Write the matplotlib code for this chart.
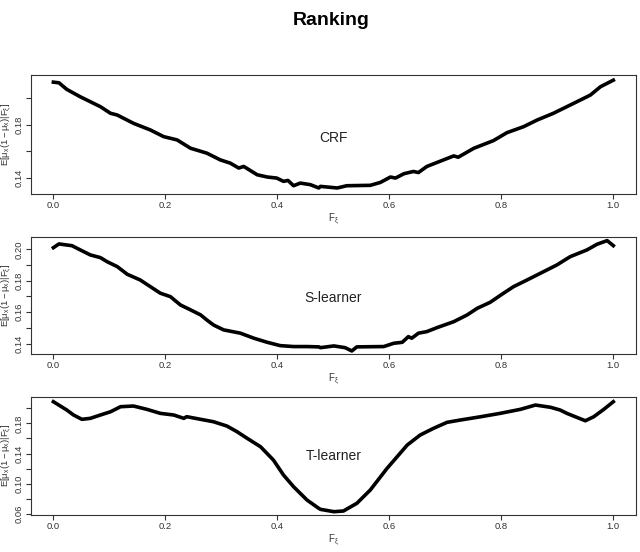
import matplotlib
matplotlib.use("Agg")
import matplotlib.pyplot as plt

# Ranking plot: E[mu(1-mu)|F] against the ranking score F, one panel per learner

# values
crf_x = [0.0, 0.01, 0.024, 0.048, 0.084, 0.102, 0.114, 0.143, 0.173, 0.197, 0.221, 0.245,
         0.274, 0.298, 0.316, 0.331, 0.340, 0.364, 0.382, 0.399, 0.411, 0.419, 0.429, 0.441,
         0.459, 0.474, 0.477, 0.507, 0.524, 0.566, 0.584, 0.602, 0.611, 0.626, 0.643, 0.652,
         0.667, 0.697, 0.715, 0.723, 0.751, 0.786, 0.810, 0.840, 0.864, 0.893, 0.929, 0.959,
         0.977, 1.0]
crf_y = [0.2123, 0.2118, 0.2068, 0.2012, 0.1937, 0.1887, 0.1874, 0.1811, 0.1761, 0.1710, 0.1685, 0.1622,
         0.1585, 0.1534, 0.1509, 0.1472, 0.1484, 0.1421, 0.1404, 0.1396, 0.1371, 0.1378, 0.1338, 0.1358,
         0.1346, 0.1321, 0.1333, 0.1321, 0.1338, 0.1341, 0.1363, 0.1404, 0.1396, 0.1429, 0.1446, 0.1438,
         0.1484, 0.1534, 0.1564, 0.1554, 0.1622, 0.1680, 0.1740, 0.1786, 0.1836, 0.1887, 0.1962, 0.2025,
         0.2088, 0.2138]

s_x = [0.0, 0.01, 0.024, 0.033, 0.048, 0.066, 0.084, 0.096, 0.114, 0.132, 0.155, 0.173,
       0.191, 0.209, 0.227, 0.245, 0.263, 0.274, 0.286, 0.304, 0.334, 0.358, 0.382, 0.405,
       0.429, 0.453, 0.474, 0.477, 0.501, 0.521, 0.533, 0.542, 0.590, 0.608, 0.623, 0.634,
       0.640, 0.652, 0.667, 0.685, 0.715, 0.739, 0.757, 0.780, 0.804, 0.822, 0.846, 0.870,
       0.899, 0.923, 0.953, 0.971, 0.989, 1.0]
s_y = [0.2010, 0.2034, 0.2027, 0.2023, 0.1996, 0.1964, 0.1947, 0.1921, 0.1890, 0.1841, 0.1805, 0.1763,
       0.1721, 0.1699, 0.1646, 0.1615, 0.1583, 0.1551, 0.1519, 0.1488, 0.1467, 0.1435, 0.1409, 0.1388,
       0.1382, 0.1382, 0.1380, 0.1375, 0.1386, 0.1375, 0.1354, 0.1380, 0.1382, 0.1403, 0.1409, 0.1445,
       0.1435, 0.1467, 0.1477, 0.1502, 0.1540, 0.1583, 0.1625, 0.1663, 0.1721, 0.1763, 0.1805, 0.1848,
       0.1900, 0.1953, 0.1996, 0.2032, 0.2055, 0.2023]

t_x = [0.0, 0.024, 0.036, 0.051, 0.066, 0.084, 0.102, 0.120, 0.143, 0.167, 0.191, 0.215,
       0.233, 0.238, 0.263, 0.286, 0.310, 0.328, 0.346, 0.370, 0.393, 0.411, 0.429, 0.453,
       0.474, 0.477, 0.501, 0.518, 0.542, 0.566, 0.596, 0.632, 0.655, 0.679, 0.703, 0.727,
       0.763, 0.798, 0.834, 0.861, 0.888, 0.905, 0.917, 0.950, 0.965, 0.983, 1.0]
t_y = [0.2086, 0.1976, 0.1910, 0.1853, 0.1866, 0.1910, 0.1953, 0.2020, 0.2029, 0.1985, 0.1932, 0.1910,
       0.1866, 0.1888, 0.1853, 0.1821, 0.1764, 0.1689, 0.1602, 0.1490, 0.1314, 0.1116, 0.0961, 0.0785,
       0.0675, 0.0662, 0.0631, 0.0640, 0.0742, 0.0918, 0.1205, 0.1513, 0.1645, 0.1734, 0.1813, 0.1844,
       0.1887, 0.1932, 0.1985, 0.2042, 0.2012, 0.1976, 0.1932, 0.1834, 0.1887, 0.1985, 0.2086]

names = ["CRF", "S-learner", "T-learner"]
label_y = [0.170, 0.169, 0.137]

y_ticks = [[0.14, 0.16, 0.18, 0.20],
           [0.14, 0.15, 0.16, 0.17, 0.18, 0.19, 0.20],
           [0.06, 0.08, 0.10, 0.12, 0.14, 0.16, 0.18, 0.20]]
y_labels = [["0.14", "", "0.18", ""],
            ["0.14", "", "0.16", "", "0.18", "", "0.20"],
            ["0.06", "", "0.10", "", "0.14", "", "0.18", ""]]
y_lims = [(0.1273, 0.2177), (0.1333, 0.2076), (0.0587, 0.2152)]
x_ticks = [0.0, 0.2, 0.4, 0.6, 0.8, 1.0]
x_labels = ["0.0", "0.2", "0.4", "0.6", "0.8", "1.0"]

plt.rcParams['font.family'] = ['Liberation Sans', 'DejaVu Sans']
plt.rcParams['mathtext.fontset'] = 'custom'
plt.rcParams['mathtext.rm'] = 'Liberation Sans'
plt.rcParams['mathtext.it'] = 'Liberation Sans'

fig = plt.figure(figsize=(6.4, 5.52), dpi=100)
fig.text(0.518, 0.962, "Ranking", ha='center', va='center', fontsize=14, fontweight='bold')

# axes boxes in figure fractions (left, bottom, width, height)
boxes = [(0.0484, 0.6480, 0.9449, 0.2161),
         (0.0484, 0.3582, 0.9449, 0.2119),
         (0.0484, 0.0670, 0.9449, 0.2143)]
data = [(crf_x, crf_y), (s_x, s_y), (t_x, t_y)]

for i in range(3):
    ax = fig.add_axes(boxes[i])
    xs, ys = data[i]
    ax.plot(xs, ys, color="black", lw=2.6, solid_joinstyle='round')
    ax.set_xlim(-0.04, 1.04)
    ax.set_ylim(y_lims[i])
    ax.set_xticks(x_ticks)
    ax.set_xticklabels(x_labels)
    ax.set_yticks(y_ticks[i])
    ax.set_yticklabels(y_labels[i])
    ax.tick_params(axis='both', direction='out', length=3.6, width=0.8, labelsize=6.8,
                   colors='#333333', pad=1.5)
    ax.tick_params(axis='y', labelrotation=90)
    for lab in ax.get_yticklabels():
        lab.set_va('center')
    for sp in ax.spines.values():
        sp.set_color('#333333')
        sp.set_linewidth(0.8)
    ax.text(0.5, label_y[i], names[i], ha='center', va='center', fontsize=10, color='#222222')
    ax.set_xlabel(r'$\mathrm{F}_{\xi}$', fontsize=7, color='#333333', labelpad=1)
    ax.set_ylabel(r'$\mathrm{E[\mu_x(1-\mu_x)|F_{\xi}]}$', fontsize=6.8, color='#333333', va='center')
    ax.yaxis.set_label_coords(-0.040, 0.5)

fig.savefig("out.png", dpi=100)
